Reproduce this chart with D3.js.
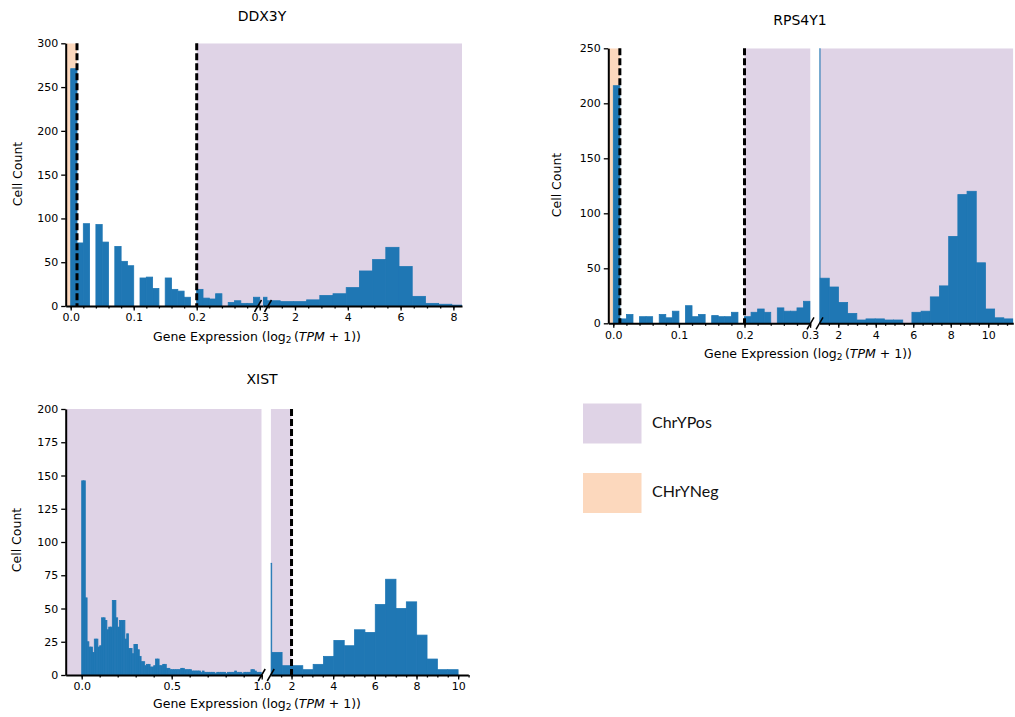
<!DOCTYPE html>
<html>
<head>
<meta charset="utf-8">
<script src="https://cdn.jsdelivr.net/npm/d3@7"></script>
<style>
  body { margin: 0; background: #fff; }
  svg { display: block; }
</style>
</head>
<body>
<svg id="chart" width="1015" height="717"></svg>
<script>
// ---------------- DATA ----------------
const geneNames = ["DDX3Y", "RPS4Y1", "XIST"];
const legendLabels = ["ChrYPos", "CHrYNeg"];
const yAxisLabel = "Cell Count";

// fine bins (low-expression segment), width 0.01 starting at 0
const fineBinStart = 0;
const fineBinWidth = 0.01;

// DDX3Y
const ddx3yLowCounts = [271, 72, 94, 0, 93, 73, 0, 68, 51, 46, 0, 32, 33, 20, 0, 32, 19, 17, 10, 0,
                        19, 9, 8, 14, 0, 4, 6, 3, 3, 10];
const ddx3yHighStart = 0.44;
const ddx3yHighWidth = 0.5;
const ddx3yHighCounts = [10, 6, 5, 5, 7, 12, 14, 21, 40, 53, 67, 45, 11, 3, 2, 1];
const ddx3yCutoffs = [0.01, 0.2];
const ddx3yYTicks = [0, 50, 100, 150, 200, 250, 300];
const ddx3yLowTicks = [0, 0.1, 0.2, 0.3];
const ddx3yHighTicks = [2, 4, 6, 8];

// RPS4Y1
const rps4y1LowCounts = [216, 4, 8, 0, 6, 6, 0, 8, 5, 11, 0, 16, 6, 8, 0, 7, 6, 6, 10, 0,
                         6, 10, 13, 10, 0, 14, 11, 11, 14, 20];
const rps4y1HighStart = 0.54;
const rps4y1HighWidth = 0.49;
const rps4y1HighCounts = [300, 41, 33, 19, 9, 3, 4, 4, 3, 3, 0, 10, 11, 24, 34, 79, 117, 120, 55, 13, 5, 4];
const rps4y1Cutoffs = [0.01, 0.2];
const rps4y1YTicks = [0, 50, 100, 150, 200, 250];
const rps4y1LowTicks = [0, 0.1, 0.2, 0.3];
const rps4y1HighTicks = [2, 4, 6, 8, 10];

// XIST
const xistLowCounts = [146, 146, 58, 25, 21, 21, 17, 27, 27, 21, 22, 43, 43, 41, 34, 36, 36, 56, 56, 43,
                       36, 41, 41, 41, 27, 31, 20, 20, 16, 23, 23, 19, 14, 10, 10, 7, 8, 8, 6, 6,
                       7, 12, 12, 7, 7, 8, 8, 5, 5, 4, 4, 4, 4, 4, 4, 5, 5, 4, 4, 4,
                       4, 3, 3, 3, 3, 3, 2, 3, 2, 2, 2, 2, 2, 2, 1, 2, 2, 2, 2, 2,
                       1, 2, 2, 2, 2, 3, 2, 2, 2, 1, 2, 2, 2, 2, 4, 4, 3, 2, 2, 2];
const xistHighStart = 0.553;
const xistHighWidth = 0.497;
const xistHighCounts = [84, 17, 7, 7, 4, 8, 14, 26, 22, 34, 32, 53, 72, 50, 55, 30, 12, 4, 4];
const xistCutoffs = [2];
const xistYTicks = [0, 25, 50, 75, 100, 125, 150, 175, 200];
const xistLowTicks = [0, 0.5, 1.0];
const xistHighTicks = [2, 4, 6, 8, 10];

// ---------------- STYLE ----------------
const BAR = "#1f77b4";
const POS = "#dfd3e6";
const NEG = "#fcd8bd";
const FONT = "DejaVu Sans";

const svg = d3.select("#chart");
const f1 = d3.format(".1f");
const fi = d3.format("d");

function xLabel(g, cx, cy) {
  const t = g.append("text").attr("x", cx).attr("y", cy)
    .attr("text-anchor", "middle").attr("font-family", FONT).attr("font-size", 12.5)
    .attr("dominant-baseline", "middle");
  t.append("tspan").text("Gene Expression (log");
  t.append("tspan").attr("font-size", 9).attr("dy", 3).text("2");
  t.append("tspan").attr("dy", -3).text("\u2009(");
  t.append("tspan").attr("font-style", "italic").text("TPM");
  t.append("tspan").text(" + 1))");
}

function drawPanel(p) {
  const g = svg.append("g");
  const y = d3.scaleLinear().domain([0, p.yMax]).range([p.bottom, p.top]);

  p.segments.forEach((s, si) => {
    const x = d3.scaleLinear().domain(s.domain).range([s.x0, s.x1]);
    const id = `clip-${p.name}-${si}`;
    svg.append("clipPath").attr("id", id).append("rect")
      .attr("x", s.x0).attr("y", p.top).attr("width", s.x1 - s.x0).attr("height", p.bottom - p.top);
    const sg = g.append("g").attr("clip-path", `url(#${id})`);

    // shaded regions
    p.regions.forEach(r => {
      const a = Math.max(r.from, s.domain[0]);
      const b = Math.min(r.to, s.domain[1]);
      if (b > a) {
        sg.append("rect").attr("x", x(a)).attr("y", p.top)
          .attr("width", x(b) - x(a)).attr("height", p.bottom - p.top)
          .attr("fill", r.color);
      }
    });

    // histogram bars
    const bins = s.counts.map((c, i) => ({ x0: s.start + i * s.width, x1: s.start + (i + 1) * s.width, c }));
    sg.selectAll("rect.bar").data(bins.filter(d => d.c > 0)).join("rect")
      .attr("class", "bar")
      .attr("x", d => x(d.x0)).attr("width", d => x(d.x1) - x(d.x0))
      .attr("y", d => y(d.c)).attr("height", d => y(0) - y(d.c))
      .attr("fill", BAR).attr("stroke", BAR).attr("stroke-width", 0.8);

    // cutoff dashed lines
    p.cutoffs.forEach(v => {
      if (v >= s.domain[0] && v <= s.domain[1]) {
        g.append("line").attr("x1", x(v)).attr("x2", x(v))
          .attr("y1", p.top).attr("y2", p.bottom)
          .attr("stroke", "#000").attr("stroke-width", 3)
          .attr("stroke-dasharray", "7,3");
      }
    });

    // x axis (major + minor)
    const ax = g.append("g").attr("transform", `translate(0,${p.bottom})`)
      .call(d3.axisBottom(x).tickValues(s.ticks).tickFormat(s.fmt).tickSize(4.5).tickSizeOuter(0));
    const mx = g.append("g").attr("transform", `translate(0,${p.bottom})`)
      .call(d3.axisBottom(x).tickValues(s.minor).tickFormat("").tickSize(2.5).tickSizeOuter(0));
    mx.select(".domain").remove();
    [ax, mx].forEach(a => {
      a.selectAll(".tick line").attr("stroke", "#000").attr("stroke-width", 1.3);
    });
    ax.select(".domain").attr("stroke", "#000").attr("stroke-width", 2);
    ax.selectAll("text").attr("font-family", FONT).attr("font-size", 11).attr("fill", "#000");
  });

  // y axis
  const ay = g.append("g").attr("transform", `translate(${p.segments[0].x0},0)`)
    .call(d3.axisLeft(y).tickValues(p.yTicks).tickSize(4.5).tickSizeOuter(0));
  ay.select(".domain").attr("stroke", "#000").attr("stroke-width", 2);
  ay.selectAll(".tick line").attr("stroke", "#000").attr("stroke-width", 1.3);
  ay.selectAll("text").attr("font-family", FONT).attr("font-size", 11).attr("fill", "#000");

  // break marks
  p.breaks.forEach(cx => {
    g.append("line").attr("x1", cx - 3.5).attr("y1", p.bottom + 6)
      .attr("x2", cx + 3.5).attr("y2", p.bottom - 6)
      .attr("stroke", "#000").attr("stroke-width", 1.5);
  });

  // title & labels
  g.append("text").attr("x", p.titleX).attr("y", p.titleY)
    .attr("text-anchor", "middle").attr("dominant-baseline", "middle")
    .attr("font-family", FONT).attr("font-size", 14).text(p.name);
  g.append("text").attr("transform", `translate(${p.yLabelX},${p.yLabelY}) rotate(-90)`)
    .attr("text-anchor", "middle").attr("dominant-baseline", "middle")
    .attr("font-family", FONT).attr("font-size", 12.5).text(yAxisLabel);
  xLabel(g, p.xLabelX, p.xLabelY);
}

const minorRange = (a, b, step) => d3.range(Math.round(a / step), Math.round(b / step) + 1).map(k => +(k * step).toFixed(4));

// DDX3Y
drawPanel({
  name: geneNames[0], yMax: 300, top: 43.3, bottom: 306, yTicks: ddx3yYTicks,
  regions: [{ from: -Infinity, to: ddx3yCutoffs[0], color: NEG }, { from: ddx3yCutoffs[1], to: Infinity, color: POS }],
  cutoffs: ddx3yCutoffs,
  segments: [
    { x0: 65.7, x1: 263, domain: [-0.00794, 0.3052], counts: ddx3yLowCounts, start: fineBinStart, width: fineBinWidth,
      ticks: ddx3yLowTicks, fmt: f1, minor: minorRange(0, 0.3, 0.02) },
    { x0: 263, x1: 462, domain: [0.788, 8.326], counts: ddx3yHighCounts, start: ddx3yHighStart, width: ddx3yHighWidth,
      ticks: ddx3yHighTicks, fmt: fi, minor: minorRange(1, 8, 0.5) }
  ],
  breaks: [258, 268],
  titleX: 262, titleY: 17, yLabelX: 18, yLabelY: 174, xLabelX: 257, xLabelY: 337
});

// RPS4Y1
drawPanel({
  name: geneNames[1], yMax: 250, top: 48.3, bottom: 323.3, yTicks: rps4y1YTicks,
  regions: [{ from: -Infinity, to: rps4y1Cutoffs[0], color: NEG }, { from: rps4y1Cutoffs[1], to: Infinity, color: POS }],
  cutoffs: rps4y1Cutoffs,
  segments: [
    { x0: 608.3, x1: 810.5, domain: [-0.00762, 0.3006], counts: rps4y1LowCounts, start: fineBinStart, width: fineBinWidth,
      ticks: rps4y1LowTicks, fmt: f1, minor: minorRange(0, 0.3, 0.02) },
    { x0: 819.5, x1: 1013.3, domain: [1.0, 11.336], counts: rps4y1HighCounts, start: rps4y1HighStart, width: rps4y1HighWidth,
      ticks: rps4y1HighTicks, fmt: fi, minor: minorRange(1.5, 11, 0.5) }
  ],
  breaks: [810.5, 819.5],
  titleX: 800, titleY: 21, yLabelX: 557, yLabelY: 185, xLabelX: 808, xLabelY: 354
});

// XIST
drawPanel({
  name: geneNames[2], yMax: 200, top: 409, bottom: 675, yTicks: xistYTicks,
  regions: [{ from: -Infinity, to: xistCutoffs[0], color: POS }],
  cutoffs: xistCutoffs,
  segments: [
    { x0: 65.7, x1: 261.7, domain: [-0.0889, 1.0], counts: xistLowCounts, start: fineBinStart, width: fineBinWidth,
      ticks: xistLowTicks, fmt: f1, minor: minorRange(0, 1.0, 0.1) },
    { x0: 270.7, x1: 468.3, domain: [1.0, 10.486], counts: xistHighCounts, start: xistHighStart, width: xistHighWidth,
      ticks: xistHighTicks, fmt: fi, minor: minorRange(1.5, 10.5, 0.5) }
  ],
  breaks: [261.7, 270.7],
  titleX: 262, titleY: 380, yLabelX: 17, yLabelY: 540, xLabelX: 257, xLabelY: 704
});

// ---------------- LEGEND ----------------
const legendColors = [POS, NEG];
const lg = svg.append("g");
legendLabels.forEach((lab, i) => {
  const cy = 423.5 + i * 69.5;
  lg.append("rect").attr("x", 583).attr("y", cy - 20).attr("width", 58.5).attr("height", 40)
    .attr("fill", legendColors[i]);
  lg.append("text").attr("x", 652).attr("y", cy).attr("dominant-baseline", "middle")
    .attr("font-family", "Lato").attr("font-size", 16).attr("fill", "#111").text(lab);
});
</script>
</body>
</html>
